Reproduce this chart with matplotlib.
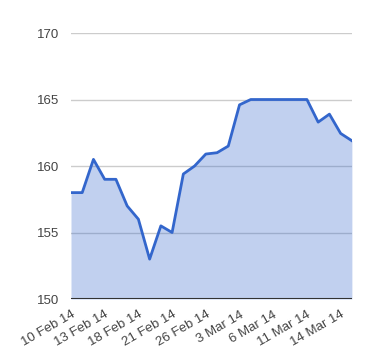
# Area chart of a daily price series, Feb-Mar 2014.

import matplotlib
matplotlib.use("Agg")
import matplotlib.pyplot as plt
import numpy as np

dates = ["10 Feb 14", "11 Feb 14", "12 Feb 14", "13 Feb 14", "14 Feb 14",
         "17 Feb 14", "18 Feb 14", "19 Feb 14", "20 Feb 14", "21 Feb 14",
         "24 Feb 14", "25 Feb 14", "26 Feb 14", "27 Feb 14", "28 Feb 14",
         "3 Mar 14", "4 Mar 14", "5 Mar 14", "6 Mar 14", "7 Mar 14",
         "10 Mar 14", "11 Mar 14", "12 Mar 14", "13 Mar 14", "14 Mar 14",
         "17 Mar 14"]
values = [158.0, 158.0, 160.5, 159.0, 159.0, 157.0, 156.0, 153.0, 155.5, 155.0,
          159.4, 160.0, 160.9, 161.0, 161.5, 164.6, 165.0, 165.0, 165.0, 165.0,
          165.0, 165.0, 163.3, 163.9, 162.45, 161.9]
y_ticks = [150, 155, 160, 165, 170]

plt.rcParams['font.family'] = ['Liberation Sans', 'DejaVu Sans']

fig = plt.figure(figsize=(3.8, 3.6), dpi=100)
ax = fig.add_axes([0.1868, 0.1694, 0.7392, 0.7389])

x = np.arange(len(values))
ax.fill_between(x, y_ticks[0], values, color="#3366cc", alpha=0.3, linewidth=0, zorder=2)
ax.plot(x, values, color="#3366cc", linewidth=2, zorder=3)

ax.set_xlim(0, len(values) - 1)
ax.set_ylim(y_ticks[0], y_ticks[-1])
ax.set_yticks(y_ticks)
ax.set_yticklabels([str(t) for t in y_ticks])
for t in y_ticks[1:]:
  ax.axhline(t, color="#cccccc", linewidth=1, zorder=1)
ax.axhline(y_ticks[0], color="#333333", linewidth=1.5, zorder=4)

tick_idx = x[::3]
ax.set_xticks(tick_idx)
ax.set_xticklabels([dates[i] for i in tick_idx], rotation=30, ha="right",
                   rotation_mode="anchor")

for s in ax.spines.values():
  s.set_visible(False)
ax.tick_params(axis="both", length=0, labelsize=9.5, colors="#444444")
ax.tick_params(axis="y", pad=8.5)
ax.tick_params(axis="x", pad=7)

fig.savefig("out.png", dpi=100)
